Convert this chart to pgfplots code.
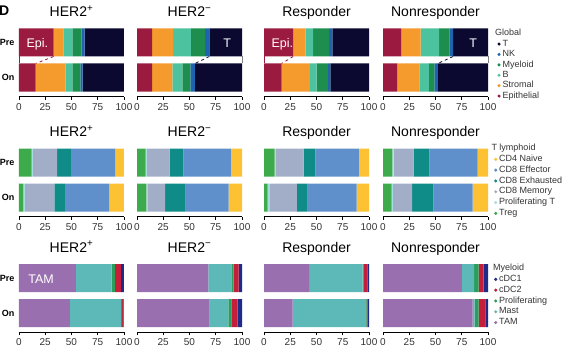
\documentclass[border=0pt]{standalone}
\usepackage{fontspec}
\setmainfont{Liberation Sans}
\usepackage{pgfplots}
\pgfplotsset{compat=1.18}

\definecolor{cEpi}{HTML}{9B1B40}
\definecolor{cStr}{HTML}{F59A2C}
\definecolor{cB}{HTML}{4DC29E}
\definecolor{cMy}{HTML}{1E8E4E}
\definecolor{cNK}{HTML}{1F63AE}
\definecolor{cT}{HTML}{0B0930}
\definecolor{cTreg}{HTML}{3DAA4B}
\definecolor{cProlT}{HTML}{A8DDE0}
\definecolor{cMem}{HTML}{A2ADC8}
\definecolor{cExh}{HTML}{0F8C87}
\definecolor{cEff}{HTML}{6090CC}
\definecolor{cNaive}{HTML}{FDC233}
\definecolor{cTAM}{HTML}{9A6FB0}
\definecolor{cMast}{HTML}{5CB9B8}
\definecolor{cProlM}{HTML}{2A9E5C}
\definecolor{cDCb}{HTML}{C41E3A}
\definecolor{cDCa}{HTML}{1F2A8A}

\tikzset{annot/.style={text=white, font=\fontsize{12.5}{12.5}\selectfont, anchor=base, inner sep=0pt}}

\pgfplotsset{
  panel/.style={
    xbar stacked, bar width=0.8, scale only axis, width=105pt, height=73.5pt,
    anchor=south west,
    xmin=0, xmax=100, ymin=-0.55, ymax=1.55,
    axis x line*=bottom, axis y line*=left,
    x axis line style={-, line width=1.2pt, black},
    y axis line style={draw=none},
    xtick={0,25,50,75,100}, ytick={0,1}, yticklabels={},
    tick align=outside, major tick length=3pt,
    xtick style={black, line width=0.8pt}, ytick style={draw=none},
    tick label style={font=\fontsize{10}{10}\selectfont, text=black!80},
    /pgf/number format/assume math mode=true,
    title style={at={(0.5,1)}, anchor=base, yshift=0.75pt, font=\fontsize{14}{14}\selectfont, inner sep=0pt},
    every axis plot/.append style={draw=none},
    clip=false,
  },
  firstcol/.style={yticklabels={On,Pre}, yticklabel style={font=\bfseries\fontsize{9}{9}\selectfont, text=black, xshift=2pt}},
  mylegend/.style={
    legend image code/.code={\fill[##1] (0pt,0pt) circle (1.7pt);},
    reverse legend,
    legend cell align=left,
    legend style={at={(1,1)}, anchor=north west, draw=none, fill=none, inner sep=0pt,
      font=\fontsize{9}{10}\selectfont, text=black!80, column sep=1.3pt,
      nodes={inner sep=0.5pt, text height=6.4pt, text depth=2pt}},
  },
}

\begin{document}
\begin{tikzpicture}
\useasboundingbox (0,0) rectangle (565pt,349pt);
\node[anchor=base west, inner sep=0pt, font=\bfseries\fontsize{14}{14}\selectfont] at (-1pt,334pt) {D};

% ---------------- Row 1: Global ----------------
\begin{axis}[panel, firstcol, at={(19pt,252.25pt)}, title={HER2\textsuperscript{+}},
  after end axis/.code={\node[annot] at ([yshift=-5pt]axis cs:17.5,1) {Epi.};}]
\addplot[fill=cEpi] coordinates {(15.9,0) (33,1)};
\addplot[fill=cStr] coordinates {(28.5,0) (9.2,1)};
\addplot[fill=cB]   coordinates {(6.4,0) (8.6,1)};
\addplot[fill=cMy]  coordinates {(7.6,0) (8.9,1)};
\addplot[fill=cNK]  coordinates {(2.2,0) (2.8,1)};
\addplot[fill=cT]   coordinates {(39.4,0) (37.5,1)};
\draw[cEpi, dashed, line width=0.8pt] (axis cs:33,0.6) -- (axis cs:15.9,0.4);
\draw[cEpi, line width=0.8pt] (axis cs:0,0.6) -- (axis cs:0,0.4);
\end{axis}

\begin{axis}[panel, at={(137pt,252.25pt)}, title={HER2\textsuperscript{−}},
  after end axis/.code={\node[annot] at ([yshift=-5.5pt]axis cs:86,1) {T};}]
\addplot[fill=cEpi] coordinates {(14.3,0) (14.3,1)};
\addplot[fill=cStr] coordinates {(19.4,0) (20.0,1)};
\addplot[fill=cB]   coordinates {(9.5,0) (17.1,1)};
\addplot[fill=cMy]  coordinates {(7.6,0) (13.4,1)};
\addplot[fill=cNK]  coordinates {(4.4,0) (4.1,1)};
\addplot[fill=cT]   coordinates {(44.8,0) (31.1,1)};
\draw[cT, dashed, line width=0.8pt] (axis cs:68.9,0.6) -- (axis cs:55.2,0.4);
\draw[gray, line width=0.8pt] (axis cs:100,0.6) -- (axis cs:100,0.4);
\end{axis}

\begin{axis}[panel, at={(264pt,252.25pt)}, title={Responder},
  after end axis/.code={\node[annot] at ([yshift=-5pt]axis cs:17.5,1) {Epi.};}]
\addplot[fill=cEpi] coordinates {(16.8,0) (27.8,1)};
\addplot[fill=cStr] coordinates {(26.9,0) (11.8,1)};
\addplot[fill=cB]   coordinates {(6.3,0) (7.2,1)};
\addplot[fill=cMy]  coordinates {(11.1,0) (15.2,1)};
\addplot[fill=cNK]  coordinates {(2.2,0) (3.2,1)};
\addplot[fill=cT]   coordinates {(36.7,0) (34.8,1)};
\draw[cEpi, dashed, line width=0.8pt] (axis cs:27.8,0.6) -- (axis cs:16.8,0.4);
\draw[cEpi, line width=0.8pt] (axis cs:0,0.6) -- (axis cs:0,0.4);
\end{axis}

\begin{axis}[panel, mylegend, at={(383pt,252.25pt)}, title={Nonresponder},
  legend style={xshift=9.1pt, yshift=-5.5pt, row sep=1.0pt},
  after end axis/.code={\node[annot] at ([yshift=-5.5pt]axis cs:86,1) {T};}]
\addplot[fill=cEpi] coordinates {(13.5,0) (17.6,1)}; \addlegendentry{Epithelial}
\addplot[fill=cStr] coordinates {(21.1,0) (18.3,1)}; \addlegendentry{Stromal}
\addplot[fill=cB]   coordinates {(9.0,0) (17.6,1)};  \addlegendentry{B}
\addplot[fill=cMy]  coordinates {(5.4,0) (9.6,1)};   \addlegendentry{Myeloid}
\addplot[fill=cNK]  coordinates {(3.2,0) (3.6,1)};   \addlegendentry{NK}
\addplot[fill=cT]   coordinates {(47.8,0) (33.3,1)}; \addlegendentry{T}
\addlegendimage{empty legend}\addlegendentry{\hspace*{-7.5pt}Global}
\draw[cT, dashed, line width=0.8pt] (axis cs:66.7,0.6) -- (axis cs:52.2,0.4);
\draw[gray, line width=0.8pt] (axis cs:100,0.6) -- (axis cs:100,0.4);
\end{axis}

% ---------------- Row 2: T lymphoid ----------------
\begin{axis}[panel, firstcol, at={(19pt,132.25pt)}, title={HER2\textsuperscript{+}}]
\addplot[fill=cTreg]  coordinates {(4.1,0) (12,1)};
\addplot[fill=cProlT] coordinates {(1.6,0) (1.2,1)};
\addplot[fill=cMem]   coordinates {(28.1,0) (23.1,1)};
\addplot[fill=cExh]   coordinates {(10.0,0) (13.2,1)};
\addplot[fill=cEff]   coordinates {(42.3,0) (42.3,1)};
\addplot[fill=cNaive] coordinates {(13.9,0) (8.2,1)};
\end{axis}

\begin{axis}[panel, at={(137pt,132.25pt)}, title={HER2\textsuperscript{−}}]
\addplot[fill=cTreg]  coordinates {(8.9,0) (8.3,1)};
\addplot[fill=cProlT] coordinates {(0.9,0) (1.2,1)};
\addplot[fill=cMem]   coordinates {(16.9,0) (21.6,1)};
\addplot[fill=cExh]   coordinates {(19.6,0) (13.0,1)};
\addplot[fill=cEff]   coordinates {(41.0,0) (45.4,1)};
\addplot[fill=cNaive] coordinates {(12.7,0) (10.5,1)};
\end{axis}

\begin{axis}[panel, at={(264pt,132.25pt)}, title={Responder}]
\addplot[fill=cTreg]  coordinates {(3.5,0) (10.2,1)};
\addplot[fill=cProlT] coordinates {(1.6,0) (1.0,1)};
\addplot[fill=cMem]   coordinates {(26.2,0) (26.5,1)};
\addplot[fill=cExh]   coordinates {(10.2,0) (11.2,1)};
\addplot[fill=cEff]   coordinates {(46.7,0) (41.5,1)};
\addplot[fill=cNaive] coordinates {(11.8,0) (9.6,1)};
\end{axis}

\begin{axis}[panel, mylegend, at={(383pt,132.25pt)}, title={Nonresponder},
  legend style={xshift=5.8pt, yshift=-0.4pt, row sep=1.4pt}]
\addplot[fill=cTreg]  coordinates {(8.3,0) (8.9,1)};   \addlegendentry{Treg}
\addplot[fill=cProlT] coordinates {(1.0,0) (1.3,1)};   \addlegendentry{Proliferating T}
\addplot[fill=cMem]   coordinates {(18.5,0) (18.9,1)}; \addlegendentry{CD8 Memory}
\addplot[fill=cExh]   coordinates {(20.1,0) (15.0,1)}; \addlegendentry{CD8 Exhausted}
\addplot[fill=cEff]   coordinates {(37.4,0) (46.0,1)}; \addlegendentry{CD8 Effector}
\addplot[fill=cNaive] coordinates {(14.7,0) (9.9,1)};  \addlegendentry{CD4 Naive}
\addlegendimage{empty legend}\addlegendentry{\hspace*{-7.7pt}T lymphoid}
\end{axis}

% ---------------- Row 3: Myeloid ----------------
\begin{axis}[panel, firstcol, at={(19pt,16.75pt)}, title={HER2\textsuperscript{+}},
  after end axis/.code={\node[annot] at ([yshift=-5.5pt]axis cs:21,1) {TAM};}]
\addplot[fill=cTAM]   coordinates {(48.4,0) (54.1,1)};
\addplot[fill=cMast]  coordinates {(48.7,0) (34.1,1)};
\addplot[fill=cProlM] coordinates {(1.0,0) (3.2,1)};
\addplot[fill=cDCb]   coordinates {(1.6,0) (5.7,1)};
\addplot[fill=cDCa]   coordinates {(0.3,0) (2.9,1)};
\end{axis}

\begin{axis}[panel, at={(137pt,16.75pt)}, title={HER2\textsuperscript{−}}]
\addplot[fill=cTAM]   coordinates {(69.2,0) (67.9,1)};
\addplot[fill=cMast]  coordinates {(17.8,0) (21.9,1)};
\addplot[fill=cProlM] coordinates {(2.8,0) (2.3,1)};
\addplot[fill=cDCb]   coordinates {(6.1,0) (4.7,1)};
\addplot[fill=cDCa]   coordinates {(4.1,0) (3.2,1)};
\end{axis}

\begin{axis}[panel, at={(264pt,16.75pt)}, title={Responder}]
\addplot[fill=cTAM]   coordinates {(27.3,0) (42.9,1)};
\addplot[fill=cMast]  coordinates {(69.8,0) (51.1,1)};
\addplot[fill=cProlM] coordinates {(0.7,0) (0.6,1)};
\addplot[fill=cDCb]   coordinates {(0.8,0) (3.8,1)};
\addplot[fill=cDCa]   coordinates {(1.4,0) (1.6,1)};
\end{axis}

\begin{axis}[panel, mylegend, at={(383pt,16.75pt)}, title={Nonresponder},
  legend style={xshift=5.8pt, yshift=-4.9pt, row sep=1.4pt}]
\addplot[fill=cTAM]   coordinates {(85.3,0) (75.0,1)}; \addlegendentry{TAM}
\addplot[fill=cMast]  coordinates {(1.9,0) (11.9,1)};  \addlegendentry{Mast}
\addplot[fill=cProlM] coordinates {(3.8,0) (4.1,1)};   \addlegendentry{Proliferating}
\addplot[fill=cDCb]   coordinates {(6.4,0) (4.8,1)};   \addlegendentry{cDC2}
\addplot[fill=cDCa]   coordinates {(2.6,0) (4.2,1)};   \addlegendentry{cDC1}
\addlegendimage{empty legend}\addlegendentry{\hspace*{-6pt}Myeloid}
\end{axis}
\end{tikzpicture}
\end{document}
